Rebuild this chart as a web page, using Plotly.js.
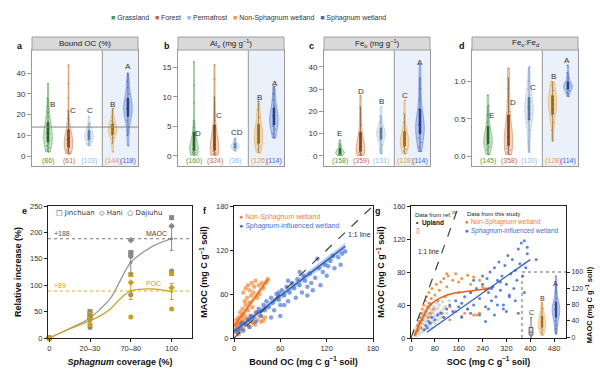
<!DOCTYPE html>
<html><head><meta charset="utf-8">
<script src="https://cdn.plot.ly/plotly-3.0.1.min.js"></script>
<style>html,body{margin:0;padding:0;background:#fff}#chart{width:600px;height:383px}</style>
</head><body><div id="chart"></div>
<script>
// ---------------- DATA ----------------
const groups = ['Grassland','Forest','Permafrost','Non-Sphagnum wetland','Sphagnum wetland'];
const groupColors = ['#3f9e3f','#c96a2b','#8fbcec','#f0a02c','#3d65d8'];

// panel a: Bound OC (%)
const grass_a  = [2,3,4,5,5,6,7,8,8,9,10,10,11,11,12,13,14,15,16,17,19,21,24,28,35];
const forest_a = [1,2,2,3,3,4,4,5,5,6,6,7,7,8,8,9,10,10,11,12,13,15,18,22,28,35,44];
const perm_a   = [5,6,7,8,8,9,9,10,10,10,11,11,12,13,14,16,19];
const nonsph_a = [2,6,9,10,11,12,12,13,13,14,14,15,16,17,19,23];
const sph_a    = [5,10,14,17,19,20,21,22,22,23,24,25,26,27,28,30,33,36,40];
const counts_a = [86,61,103,144,118];
const letters_a = ['B','C','C','B','A'];
const letterY_a = [25,22,22,25,43];

// panel b: Al_o
const grass_b  = [0.1,0.3,0.5,0.6,0.8,0.9,1.0,1.0,1.1,1.2,1.3,1.5,1.7,2.0,2.5,3,4,4.8,6,9,12,16];
const forest_b = [0.1,0.3,0.5,0.7,0.9,1.0,1.2,1.3,1.5,1.7,2.0,2.3,2.8,3.5,4.5,6,8,10,13,15.5];
const perm_b   = [0.8,1.1,1.3,1.4,1.5,1.6,1.6,1.7,1.8,2.0,2.3,2.6,3.0];
const nonsph_b = [0.5,1.0,1.5,2.0,2.5,3.0,3.3,3.5,3.8,4.2,4.8,5.5,6.5,7.8,9.3];
const sph_b    = [3.0,3.8,4.5,5.0,5.5,5.8,6.0,6.2,6.5,6.8,7.2,7.8,8.5,9.5,10.5,11.8];
const counts_b = [160,324,36,126,114];
const letters_b = ['D','C','CD','B','A'];
const letterY_b = [3.7,6.9,3.9,9.9,12.3];

// panel c: Fe_o
const grass_c  = [0.2,0.5,0.8,1.0,1.2,1.4,1.5,1.7,2.0,2.3,2.8,3.5,4.5,5.5,7.0];
const forest_c = [0.2,0.5,1,1.5,2,2.5,3,3,3.5,4,5,6,7,9,11,14,18,22,27];
const perm_c   = [1,3,5,7,8,9,9.5,10,10,10.5,11,12,13,15,18,22];
const nonsph_c = [1,2,3,4,5,6,6.5,7,7.5,8,9,10,12,15,19,25];
const sph_c    = [2,4,6,8,10,11,12,13,13.5,14,15,16,18,21,25,30,35,41];
const counts_c = [158,359,131,128,114];
const letters_c = ['E','D','B','C','A'];
const letterY_c = [9.9,28.8,24.6,27.3,42];

// panel d: Fe_o:Fe_d
const grass_d  = [0.02,0.08,0.12,0.15,0.17,0.19,0.2,0.21,0.23,0.25,0.28,0.32,0.38,0.45,0.55,0.68,0.82];
const forest_d = [0.02,0.05,0.08,0.1,0.13,0.15,0.18,0.2,0.23,0.25,0.28,0.3,0.35,0.4,0.5,0.6,0.75,0.9,1.05,1.18];
const perm_d   = [0.05,0.2,0.35,0.45,0.52,0.56,0.6,0.62,0.64,0.66,0.7,0.75,0.82,0.9,1.0,1.2];
const nonsph_d = [0.2,0.35,0.45,0.55,0.6,0.65,0.68,0.7,0.72,0.75,0.78,0.82,0.88,0.95,1.0];
const sph_d    = [0.8,0.85,0.88,0.9,0.91,0.92,0.93,0.94,0.95,0.96,0.98,1.0,1.05,1.12,1.22];
const counts_d = [145,358,120,128,114];
const letters_d = ['E','D','C','B','A'];
const letterY_d = [0.54,0.72,0.92,1.07,1.28];

// panel e: relative increase vs Sphagnum coverage
const coverageTicks = ['0','20–30','70–80','100'];
const maoc_jin_x = [0,1,1,2,2,3],   maoc_jin_y = [0,50,45,162,158,228];
const maoc_hani_x = [0,1,1,2,3],    maoc_hani_y = [0,40,35,185,212];
const maoc_daj_x = [0,1,1,2,2,3,3], maoc_daj_y = [0,25,20,155,82,127,124];
const poc_jin_x = [0,1,2,3],  poc_jin_y = [0,45,120,122];
const poc_hani_x = [0,1,2,3], poc_hani_y = [0,38,105,95];
const poc_daj_x = [0,1,2,3],  poc_daj_y = [0,25,40,55];
const mean_x = [0,1,2,3];
const maoc_mean = [0,38,143,188], maoc_err = [0,6,22,22];
const poc_mean  = [0,33,89,88],   poc_err  = [0,5,16,15];
const curve_x = [0,0.5,1,1.25,1.5,1.75,2,2.5,3];
const maoc_curve = [0,18,38,55,75,110,143,172,188];
const poc_curve  = [0,17,33,42,55,75,89,93,88];
const maoc_ref = 188, poc_ref = 89;

// panel f: MAOC vs bound OC
const f_or_x = [1,2,3,3,4,5,5,6,7,8,8,9,10,10,11,12,12,13,14,15,15,16,17,18,18,19,20,20,21,22,23,24,25,25,26,28,28,30,30,32,33,35,36,38,40,42,44,14,16,20,22,27,34,38,12,6];
const f_or_y = [8,18,12,25,15,20,10,28,18,22,35,15,30,22,40,25,62,32,20,45,68,28,55,38,72,25,48,65,30,58,75,42,20,62,70,35,78,55,25,72,60,22,75,68,28,76,80,50,18,15,22,18,30,24,12,5];
const f_bl_x = [5,8,10,12,15,18,20,22,25,28,30,32,35,38,40,42,45,48,50,52,55,58,60,62,65,68,70,72,75,78,80,82,85,88,90,92,95,98,100,102,105,108,110,112,115,118,120,122,125,128,130,135,138,140,144,60,70,85,95,48,58,65];
const f_bl_y = [8,12,20,10,18,25,15,30,28,22,35,40,30,45,38,50,42,55,48,38,60,52,45,65,58,70,50,62,75,68,55,80,72,62,85,78,70,88,75,65,82,108,95,72,90,100,85,98,105,112,95,110,100,115,118,30,78,90,58,28,62,45];
const f_or_fit_x = [0,44], f_or_fit_y = [16,80];
const f_or_band_lo = [11,75], f_or_band_hi = [21,85];
const f_bl_fit_x = [0,144], f_bl_fit_y = [9,125];
const f_bl_band_lo = [5,120], f_bl_band_hi = [13,130];

// panel g: MAOC vs SOC
const g_up_x = [10,12,15,18,20,22,25,25,28,30,30,32,35,35,38,40,40,42,45,45,48,50,50,52,55,55,58,60,60,62,65,65,68,70,70,72,75,78,80,82,85,88,90,92,95,100,105,110,115,120,128,20,30,40,50,60,70,80,90,100];
const g_up_y = [5,8,6,12,10,15,8,18,12,20,25,14,22,30,18,28,10,24,32,16,26,35,20,28,38,22,30,42,25,18,35,28,40,24,32,20,30,38,26,34,42,28,36,30,40,32,44,35,38,30,45,3,5,8,12,15,12,18,22,25];
const g_or_x = [15,20,22,25,28,30,32,35,35,38,40,42,45,48,50,52,55,58,60,62,65,68,70,75,80,85,90,95,100,105,110,115,120,125,130,140,150,160,170,180,190,200,210,220,230,240,250,260,110,130,150,170,190,210,230,250,120,160,200];
const g_or_y = [5,8,15,10,20,25,18,30,12,35,22,40,28,45,32,50,38,25,55,42,30,48,60,35,52,65,45,58,68,30,72,50,62,75,38,70,78,55,72,30,76,65,74,28,70,62,58,60,25,22,32,26,35,28,30,60,78,68,55];
const g_bl_x = [45,50,55,60,65,70,80,90,100,110,120,130,140,150,160,170,180,190,200,210,220,230,240,250,255,260,265,270,275,280,285,290,295,300,305,310,315,320,325,330,335,340,345,350,355,360,365,370,375,380,385,390,170,200,230,260,290,320,350,380,210,240,270,300,330,360,390,420,250,280,310];
const g_bl_y = [10,15,12,20,18,25,22,28,30,25,35,40,32,45,38,42,50,35,55,40,60,48,65,38,72,55,80,45,62,85,50,70,92,58,75,40,88,65,100,52,78,95,60,82,70,108,90,115,75,118,85,110,25,30,28,35,40,32,45,55,70,75,60,68,50,30,102,95,20,28,35];
const g_or_curve_x = [12,30,50,70,100,140,200,260];
const g_or_curve_y = [2,18,32,42,49,54,57,60];
const g_bl_fit_x = [53,400], g_bl_fit_y = [7,95];
const inset_up  = [0,2,4,5,6,8,10,12,15,18,20,25,30,40,48];
const inset_or  = [5,12,18,22,25,28,30,32,35,38,40,45,50,55,62,70,85];
const inset_bl  = [8,20,30,40,48,55,60,62,65,68,70,72,75,80,88,95,110,130,150];
const inset_letters = ['C','B','A'];
const inset_letterY = [60,96,133];

// ---------------- HELPERS ----------------
const px = x => x/600, py = y => 1 - y/383;
function rgba(hex,a){const n=parseInt(hex.slice(1),16);return `rgba(${n>>16},${(n>>8)&255},${n&255},${a})`;}
function darker(hex,f){const n=parseInt(hex.slice(1),16);const r=Math.round((n>>16)*f),g=Math.round(((n>>8)&255)*f),b=Math.round((n&255)*f);return `rgb(${r},${g},${b})`;}
const catPos = [0,1,2,3.15,3.9];
const divider = 2.65;
const FONT = 'Liberation Sans, Arial, sans-serif';
const OR = '#f08030', BL = '#3f6fd1', GRAY = '#8a8a8a', GOLD = '#c9a01e';

const traces = [];
const shapes = [];
const annotations = [];
const layout = {
  width:600, height:383, margin:{l:0,r:0,t:0,b:0},
  paper_bgcolor:'#fff', plot_bgcolor:'rgba(0,0,0,0)',
  font:{family:FONT, size:8, color:'#222'},
  violinmode:'overlay', boxmode:'overlay',
  showlegend:false,
  shapes, annotations
};

// top legend (text with coloured glyphs)
const sp = '\u00a0\u00a0\u00a0';
annotations.push({xref:'paper', yref:'paper', x:px(248), y:py(18), xanchor:'center', yanchor:'middle', showarrow:false,
  font:{size:7, color:'#333'},
  text: groups.map((g,i)=>`<span style="color:${groupColors[i]}">■</span> ${g}`).join(sp)});

// ---------------- TOP ROW ----------------
const topPanels = [
  {data:[grass_a,forest_a,perm_a,nonsph_a,sph_a], counts:counts_a, letters:letters_a, letterY:letterY_a, ldx:[0.24,0.22,0.05,0.02,0],
   dom:[32,138], range:[-4.8,51.2], tickvals:[0,10,20,30,40], ticktext:null, title:'Bound OC (%)', label:'a', lx:20, hline:14},
  {data:[grass_b,forest_b,perm_b,nonsph_b,sph_b], counts:counts_b, letters:letters_b, letterY:letterY_b, ldx:[0.18,0.23,0.1,0.05,0.05],
   dom:[178,284], range:[-1.75,18], tickvals:[0,5,10,15], ticktext:null, title:'Al<sub>o</sub> (mg g<sup>−1</sup>)', label:'b', lx:167},
  {data:[grass_c,forest_c,perm_c,nonsph_c,sph_c], counts:counts_c, letters:letters_c, letterY:letterY_c, ldx:[0,0,0,0,0],
   dom:[324,430], range:[-4.5,47.5], tickvals:[0,10,20,30,40], ticktext:null, title:'Fe<sub>o</sub> (mg g<sup>−1</sup>)', label:'c', lx:311},
  {data:[grass_d,forest_d,perm_d,nonsph_d,sph_d], counts:counts_d, letters:letters_d, letterY:letterY_d, ldx:[0.18,0.2,0.2,0.03,-0.03],
   dom:[472,578], range:[-0.134,1.425], tickvals:[0,0.5,1.0], ticktext:['0.0','0.5','1.0'], title:'Fe<sub>o</sub>:Fe<sub>d</sub>', label:'d', lx:462}
];

topPanels.forEach((p,k)=>{
  const n = k===0 ? '' : String(k+1);
  const xa = 'x'+n, ya = 'y'+n;
  layout['xaxis'+n] = {domain:[px(p.dom[0]),px(p.dom[1])], range:[-0.78,4.39], anchor:ya,
    showticklabels:false, ticks:'', showline:true, mirror:true, linecolor:'#999', linewidth:1,
    showgrid:false, zeroline:false, fixedrange:true};
  layout['yaxis'+n] = {domain:[py(166),py(50)], range:p.range, anchor:xa, tickvals:p.tickvals,
    ticktext:p.ticktext||undefined, ticks:'outside', ticklen:4, tickcolor:'#999',
    showline:true, mirror:true, linecolor:'#999', linewidth:1, showgrid:false, zeroline:false,
    tickfont:{size:8, color:'#333'}, fixedrange:true};
  shapes.push({type:'rect', xref:xa, yref:ya+' domain', x0:divider, x1:4.39, y0:0, y1:1,
    fillcolor:'#eaf1fa', line:{width:0}, layer:'below'});
  shapes.push({type:'line', xref:xa, yref:ya+' domain', x0:divider, x1:divider, y0:0, y1:1,
    line:{color:'#999', width:1}});
  if (p.hline !== undefined) shapes.push({type:'line', xref:xa+' domain', yref:ya, x0:0, x1:1,
    y0:p.hline, y1:p.hline, line:{color:'#888', width:1}});
  shapes.push({type:'rect', xref:'paper', yref:'paper', x0:px(p.dom[0]), x1:px(p.dom[1]),
    y0:py(50), y1:py(37), fillcolor:'#d9d9d9', line:{color:'#a0a0a0', width:1}});
  annotations.push({xref:'paper', yref:'paper', x:(px(p.dom[0])+px(p.dom[1]))/2, y:py(43.5),
    text:p.title, showarrow:false, font:{size:8, color:'#222'}, xanchor:'center', yanchor:'middle'});
  annotations.push({xref:'paper', yref:'paper', x:px(p.lx), y:py(46), text:'<b>'+p.label+'</b>',
    showarrow:false, font:{size:9, color:'#111'}, xanchor:'center', yanchor:'middle'});
  p.data.forEach((vals,i)=>{
    const c = groupColors[i];
    traces.push({type:'violin', x:vals.map(()=>catPos[i]), y:vals, xaxis:xa, yaxis:ya,
      name:groups[i], showlegend:false,
      line:{color:rgba(c,0.8), width:0.6}, fillcolor:rgba(c,0.3), spanmode:'hard', width:0.42, scalemode:'width',
      box:{visible:true, width:0.22, fillcolor:darker(c,0.65), line:{color:darker(c,0.5), width:0.6}},
      meanline:{visible:false}, points:'all', jitter:0.4, pointpos:0,
      marker:{size:1.5, color:darker(c,0.8), opacity:0.6}, hoverinfo:'skip'});
    annotations.push({xref:xa, yref:'paper', x:catPos[i], y:py(161), text:'('+p.counts[i]+')',
      showarrow:false, font:{size:7, color:c}, xanchor:'center', yanchor:'middle'});
    annotations.push({xref:xa, yref:ya, x:catPos[i]+p.ldx[i], y:p.letterY[i], text:p.letters[i],
      showarrow:false, font:{size:8, color:'#333'}, xanchor:'center', yanchor:'middle'});
  });
});

// ---------------- PANEL E ----------------
const axBottom = {ticks:'outside', ticklen:3, tickcolor:'#222', showline:true, mirror:true,
  linecolor:'#222', linewidth:1, showgrid:false, zeroline:false, tickfont:{size:7.5, color:'#333'}, fixedrange:true};
layout.xaxis5 = Object.assign({}, axBottom, {domain:[px(48),px(192)], range:[-0.03,3.5], anchor:'y5',
  tickvals:[0,1,2,3], ticktext:coverageTicks,
  title:{text:'<b><i>Sphagnum</i> coverage (%)</b>', font:{size:9, color:'#111'}, standoff:6}});
layout.yaxis5 = Object.assign({}, axBottom, {domain:[py(338),py(206)], range:[0,250], anchor:'x5',
  tickvals:[0,50,100,150,200,250],
  title:{text:'<b>Relative increase (%)</b>', font:{size:9, color:'#111'}, standoff:6}});
shapes.push({type:'line', xref:'x5 domain', yref:'y5', x0:0, x1:1, y0:maoc_ref, y1:maoc_ref, line:{color:'#777', width:1, dash:'dot'}});
shapes.push({type:'line', xref:'x5 domain', yref:'y5', x0:0, x1:1, y0:poc_ref, y1:poc_ref, line:{color:'#d9b020', width:1, dash:'dot'}});
traces.push({type:'scatter', mode:'lines', x:curve_x, y:maoc_curve, xaxis:'x5', yaxis:'y5', line:{color:'#999', width:1.3, shape:'spline'}, hoverinfo:'skip'});
traces.push({type:'scatter', mode:'lines', x:curve_x, y:poc_curve, xaxis:'x5', yaxis:'y5', line:{color:'#c9a227', width:1.3, shape:'spline'}, hoverinfo:'skip'});
const ePts = [
  [maoc_jin_x,maoc_jin_y,GRAY,'square'],[maoc_hani_x,maoc_hani_y,GRAY,'diamond'],[maoc_daj_x,maoc_daj_y,GRAY,'circle'],
  [poc_jin_x,poc_jin_y,GOLD,'square'],[poc_hani_x,poc_hani_y,GOLD,'diamond'],[poc_daj_x,poc_daj_y,GOLD,'circle']];
ePts.forEach(([x,y,c,s])=>traces.push({type:'scatter', mode:'markers', x, y, xaxis:'x5', yaxis:'y5',
  marker:{color:c, symbol:s, size:5}, cliponaxis:false, hoverinfo:'skip'}));
traces.push({type:'scatter', mode:'markers', x:mean_x, y:maoc_mean, xaxis:'x5', yaxis:'y5',
  marker:{color:'#888', size:3}, error_y:{type:'data', array:maoc_err, color:'#888', thickness:1, width:2},
  cliponaxis:false, hoverinfo:'skip'});
traces.push({type:'scatter', mode:'markers', x:mean_x, y:poc_mean, xaxis:'x5', yaxis:'y5',
  marker:{color:GOLD, size:3}, error_y:{type:'data', array:poc_err, color:GOLD, thickness:1, width:2},
  cliponaxis:false, hoverinfo:'skip'});
annotations.push({xref:'x5', yref:'y5', x:0.08, y:maoc_ref, text:'+'+maoc_ref, showarrow:false, xanchor:'left', yanchor:'bottom', font:{size:7, color:'#555'}});
annotations.push({xref:'x5', yref:'y5', x:0.08, y:poc_ref, text:'+'+poc_ref, showarrow:false, xanchor:'left', yanchor:'bottom', font:{size:7, color:'#c9a01e'}});
annotations.push({xref:'x5', yref:'y5', x:2.62, y:maoc_ref, text:'MAOC', showarrow:false, xanchor:'center', yanchor:'bottom', font:{size:7, color:'#444'}});
annotations.push({xref:'x5', yref:'y5', x:2.55, y:poc_ref+3, text:'POC', showarrow:false, xanchor:'center', yanchor:'bottom', font:{size:7, color:'#c9a01e'}});
annotations.push({xref:'paper', yref:'paper', x:px(54), y:py(213), text:'□ Jinchuan  ◇ Hani  ○ Dajiuhu', showarrow:false, xanchor:'left', yanchor:'middle', font:{size:7, color:'#333', family:'DejaVu Sans, '+FONT}});
annotations.push({xref:'paper', yref:'paper', x:px(20), y:py(211), text:'<b>e</b>', showarrow:false, font:{size:9, color:'#111'}});

// ---------------- PANEL F ----------------
layout.xaxis6 = Object.assign({}, axBottom, {domain:[px(234),px(373)], range:[0,180], anchor:'y6', tickvals:[0,60,120,180],
  title:{text:'<b>Bound OC (mg C g<sup>−1</sup> soil)</b>', font:{size:9, color:'#111'}, standoff:6}});
layout.yaxis6 = Object.assign({}, axBottom, {domain:[py(338),py(206)], range:[0,180], anchor:'x6', tickvals:[0,60,120,180],
  title:{text:'<b>MAOC (mg C g<sup>−1</sup> soil)</b>', font:{size:9, color:'#111'}, standoff:6}});
traces.push({type:'scatter', mode:'markers', x:f_or_x, y:f_or_y, xaxis:'x6', yaxis:'y6', marker:{color:OR, size:4.5, opacity:0.65}, hoverinfo:'skip'});
traces.push({type:'scatter', mode:'markers', x:f_bl_x, y:f_bl_y, xaxis:'x6', yaxis:'y6', marker:{color:BL, size:4.5, opacity:0.65}, hoverinfo:'skip'});
traces.push({type:'scatter', mode:'lines', x:f_or_fit_x.concat(f_or_fit_x.slice().reverse()), y:f_or_band_lo.concat(f_or_band_hi.slice().reverse()),
  xaxis:'x6', yaxis:'y6', fill:'toself', fillcolor:rgba(OR,0.35), line:{width:0}, hoverinfo:'skip'});
traces.push({type:'scatter', mode:'lines', x:f_bl_fit_x.concat(f_bl_fit_x.slice().reverse()), y:f_bl_band_lo.concat(f_bl_band_hi.slice().reverse()),
  xaxis:'x6', yaxis:'y6', fill:'toself', fillcolor:rgba(BL,0.35), line:{width:0}, hoverinfo:'skip'});
traces.push({type:'scatter', mode:'lines', x:f_or_fit_x, y:f_or_fit_y, xaxis:'x6', yaxis:'y6', line:{color:'#e8701c', width:1.6}, hoverinfo:'skip'});
traces.push({type:'scatter', mode:'lines', x:f_bl_fit_x, y:f_bl_fit_y, xaxis:'x6', yaxis:'y6', line:{color:'#2f5fc4', width:1.6}, hoverinfo:'skip'});
shapes.push({type:'line', xref:'x6', yref:'y6', x0:0, y0:0, x1:180, y1:180, line:{color:'#444', width:1.2, dash:'dash'}});
annotations.push({xref:'x6', yref:'y6', x:163, y:141, text:'1:1 line', showarrow:false, font:{size:7, color:'#333'}});
annotations.push({xref:'paper', yref:'paper', x:px(237), y:py(217), text:'● Non-<i>Sphagnum</i> wetland', showarrow:false, xanchor:'left', yanchor:'middle', font:{size:7, color:OR}});
annotations.push({xref:'paper', yref:'paper', x:px(237), y:py(226), text:'● <i>Sphagnum</i>-influenced wetland', showarrow:false, xanchor:'left', yanchor:'middle', font:{size:7, color:BL}});
annotations.push({xref:'paper', yref:'paper', x:px(205), y:py(211), text:'<b>f</b>', showarrow:false, font:{size:9, color:'#111'}});

// ---------------- PANEL G ----------------
layout.xaxis7 = Object.assign({}, axBottom, {domain:[px(411),px(566)], range:[0,520], anchor:'y7', tickvals:[0,80,160,240,320,400,480],
  title:{text:'<b>SOC (mg C g<sup>−1</sup> soil)</b>', font:{size:9, color:'#111'}, standoff:6}});
layout.yaxis7 = Object.assign({}, axBottom, {domain:[py(338),py(206)], range:[0,160], anchor:'x7', tickvals:[0,40,80,120,160],
  title:{text:'<b>MAOC (mg C g<sup>−1</sup> soil)</b>', font:{size:9, color:'#111'}, standoff:6}});
traces.push({type:'scatter', mode:'markers', x:g_up_x, y:g_up_y, xaxis:'x7', yaxis:'y7', marker:{color:'#b5b5b5', size:3.5, opacity:0.55}, hoverinfo:'skip'});
traces.push({type:'scatter', mode:'markers', x:g_or_x, y:g_or_y, xaxis:'x7', yaxis:'y7', marker:{color:OR, size:3, opacity:0.85}, hoverinfo:'skip'});
traces.push({type:'scatter', mode:'markers', x:g_bl_x, y:g_bl_y, xaxis:'x7', yaxis:'y7', marker:{color:BL, size:3, opacity:0.85}, hoverinfo:'skip'});
traces.push({type:'scatter', mode:'lines', x:g_or_curve_x, y:g_or_curve_y, xaxis:'x7', yaxis:'y7', line:{color:'#d9641a', width:1.5, shape:'spline'}, hoverinfo:'skip'});
traces.push({type:'scatter', mode:'lines', x:g_bl_fit_x, y:g_bl_fit_y, xaxis:'x7', yaxis:'y7', line:{color:'#2f5fc4', width:1.3}, hoverinfo:'skip'});
shapes.push({type:'line', xref:'x7', yref:'y7', x0:0, y0:0, x1:160, y1:160, line:{color:'#444', width:1.2, dash:'dash'}});
// inset
layout.xaxis8 = {domain:[px(522),px(566)], range:[-0.82,3.18], anchor:'y8', visible:false, fixedrange:true};
layout.yaxis8 = {domain:[py(338),py(272)], range:[-2,160], anchor:'x8', side:'right', tickvals:[0,40,80,120,160],
  ticks:'outside', ticklen:3, tickcolor:'#222', showline:false, showgrid:false, zeroline:false,
  tickfont:{size:7, color:'#333'}, fixedrange:true,
  title:{text:'<b>MAOC (mg C g<sup>−1</sup> soil)</b>', font:{size:7.5, color:'#111'}, standoff:4}};
shapes.push({type:'line', xref:'paper', yref:'paper', x0:px(522), x1:px(522), y0:py(338), y1:py(272), line:{color:'#666', width:1, dash:'dot'}});
shapes.push({type:'line', xref:'paper', yref:'paper', x0:px(522), x1:px(566), y0:py(272), y1:py(272), line:{color:'#666', width:1, dash:'dot'}});
traces.push({type:'box', x:inset_up.map(()=>0), y:inset_up, xaxis:'x8', yaxis:'y8', width:0.35,
  fillcolor:'#d8d8d8', line:{color:'#444', width:0.8}, boxpoints:false, hoverinfo:'skip'});
[[inset_or,1,'#f0a02c'],[inset_bl,2.27,'#3d65d8']].forEach(([vals,xpos,c])=>traces.push({type:'violin',
  x:vals.map(()=>xpos), y:vals, xaxis:'x8', yaxis:'y8', width:0.7, spanmode:'hard',
  line:{color:rgba(c,0.8), width:0.6}, fillcolor:rgba(c,0.35), box:{visible:true, width:0.2, fillcolor:darker(c,0.65), line:{color:darker(c,0.5), width:0.6}},
  points:'all', jitter:0.4, pointpos:0, marker:{size:1.4, color:darker(c,0.8), opacity:0.6}, hoverinfo:'skip'}));
[0,1,2.27].forEach((xpos,i)=>annotations.push({xref:'x8', yref:'y8', x:xpos, y:inset_letterY[i], text:inset_letters[i],
  showarrow:false, font:{size:7, color:'#333'}, yanchor:'middle'}));
// g texts
annotations.push({xref:'paper', yref:'paper', x:px(413), y:py(214), text:'Data from ref.<sup>29</sup>', showarrow:false, xanchor:'left', yanchor:'middle', font:{size:6, color:'#222'}});
annotations.push({xref:'paper', yref:'paper', x:px(414), y:py(223), text:'•  <b>Upland</b>', showarrow:false, xanchor:'left', yanchor:'middle', font:{size:6.5, color:'#111'}});
annotations.push({xref:'paper', yref:'paper', x:px(414), y:py(231), text:'▯', showarrow:false, xanchor:'left', yanchor:'middle', font:{size:7, color:'#666', family:'DejaVu Sans'}});
annotations.push({xref:'paper', yref:'paper', x:px(416), y:py(251), text:'1:1 line', showarrow:false, xanchor:'left', yanchor:'middle', font:{size:6.5, color:'#222'}});
annotations.push({xref:'paper', yref:'paper', x:px(465), y:py(214), text:'Data from this study', showarrow:false, xanchor:'left', yanchor:'middle', font:{size:6, color:'#222'}});
annotations.push({xref:'paper', yref:'paper', x:px(463), y:py(222.5), text:'● Non-<i>Sphagnum</i> wetland', showarrow:false, xanchor:'left', yanchor:'middle', font:{size:6.5, color:OR}});
annotations.push({xref:'paper', yref:'paper', x:px(463), y:py(231), text:'● <i>Sphagnum</i>-influenced wetland', showarrow:false, xanchor:'left', yanchor:'middle', font:{size:6.5, color:BL}});
annotations.push({xref:'paper', yref:'paper', x:px(378), y:py(211), text:'<b>g</b>', showarrow:false, font:{size:9, color:'#111'}});

Plotly.newPlot('chart', traces, layout, {staticPlot:true, displayModeBar:false});
</script>
</body></html>
